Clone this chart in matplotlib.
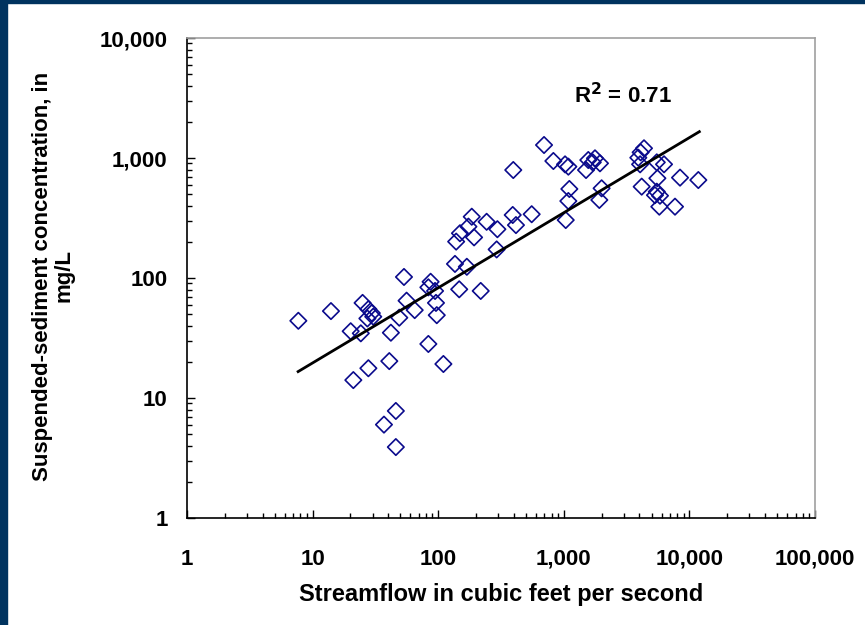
import matplotlib.pyplot as plt
from matplotlib.ticker import FixedLocator, LogLocator, NullFormatter

# streamflow (cfs) and suspended-sediment concentration (mg/L)
flow = [7.7, 14, 20.1, 21.1, 24.2, 25, 27.3, 27.8, 27.8, 29.6, 30.4, 37, 40.8, 42,
        46, 46, 49, 53.4, 56, 65, 83.5, 83.5, 87, 94.4, 96, 97.4, 110,
        136, 139, 147, 149, 169, 174, 185, 193, 218, 243, 292, 296,
        392, 396, 416, 555, 696, 826, 1023, 1036, 1087, 1087, 1107,
        1503, 1567, 1700, 1771, 1918, 1941, 2000,
        3920, 4050, 4090, 4170, 4350, 5320, 5500, 5500, 5560, 5760, 5830,
        6280, 7680, 8420, 11780]
conc = [44, 53, 36, 14.1, 34.6, 62, 46, 55, 17.7, 51, 47.6, 6, 20.3, 35,
        7.8, 3.9, 46.7, 102, 64.7, 54, 28.2, 83.6, 93, 78, 62, 49, 19.2,
        131, 201, 80.5, 236, 124, 268, 324, 218, 78, 294, 173, 255,
        335, 794, 276, 340, 1283, 944, 885, 304, 847, 438, 552,
        794, 962, 920, 994, 447, 903, 559,
        1006, 886, 1115, 577, 1205, 490, 920, 524, 678, 393, 485,
        886, 393, 686, 655]

# fitted line end points
trend_x = [7.67, 12000]
trend_y = [16.6, 1657]

x_ticks = [1, 10, 100, 1000, 10000, 100000]
x_labels = ["1", "10", "100", "1,000", "10,000", "100,000"]
y_ticks = [1, 10, 100, 1000, 10000]
y_labels = ["1", "10", "100", "1,000", "10,000"]

plt.rcParams['font.family'] = ['Liberation Sans', 'DejaVu Sans']

fig = plt.figure(figsize=(8.65, 6.25), dpi=100)
fig.patch.set_facecolor('white')

# navy slide border on the left and top
fig.add_artist(plt.Rectangle((0, 0), 7 / 865, 1, transform=fig.transFigure,
                             color='#00335f', zorder=0))
fig.add_artist(plt.Rectangle((0, 1 - 3 / 625), 1, 3 / 625, transform=fig.transFigure,
                             color='#00335f', zorder=0))

ax = fig.add_axes([187 / 865, 1 - 518 / 625, 628 / 865, 480 / 625])
ax.set_xscale('log')
ax.set_yscale('log')
ax.set_xlim(1, 100000)
ax.set_ylim(1, 10000)

ax.scatter(flow, conc, marker='D', s=70, facecolors='none', edgecolors='#0a0a8c',
           linewidths=1.2, zorder=3)
ax.plot(trend_x, trend_y, color='black', linewidth=2, zorder=4)

ax.xaxis.set_major_locator(FixedLocator(x_ticks))
ax.set_xticklabels(x_labels)
ax.yaxis.set_major_locator(FixedLocator(y_ticks))
ax.set_yticklabels(y_labels)
ax.xaxis.set_minor_locator(LogLocator(base=10, subs=range(2, 10), numticks=20))
ax.yaxis.set_minor_locator(LogLocator(base=10, subs=range(2, 10), numticks=20))
ax.xaxis.set_minor_formatter(NullFormatter())
ax.yaxis.set_minor_formatter(NullFormatter())

ax.tick_params(axis='both', which='both', direction='in', color='black', width=1)
ax.tick_params(axis='both', which='major', length=6, labelsize=16)
ax.tick_params(axis='both', which='minor', length=3.5)
ax.tick_params(axis='x', which='major', pad=22)
ax.tick_params(axis='y', which='major', pad=14)
for lab in ax.get_xticklabels() + ax.get_yticklabels():
    lab.set_fontweight('bold')

ax.spines['left'].set_color('black')
ax.spines['bottom'].set_color('black')
ax.spines['top'].set_color('#a0a0a0')
ax.spines['right'].set_color('#a0a0a0')
for s in ax.spines.values():
    s.set_linewidth(1.2)

ax.set_xlabel("Streamflow in cubic feet per second", fontsize=17,
              fontweight='bold', labelpad=10)
fig.text(53 / 865, 1 - 276 / 625, "Suspended-sediment concentration, in\nmg/L",
         rotation=90, ha='center', va='center', fontsize=16, fontweight='bold',
         linespacing=1.05)

ax.text(623 / 865, 1 - 96 / 625, r"R$^\mathbf{2}$ = 0.71", transform=fig.transFigure,
        ha='center', va='center', fontsize=16, fontweight='bold')

fig.savefig('out.png', dpi=100)
